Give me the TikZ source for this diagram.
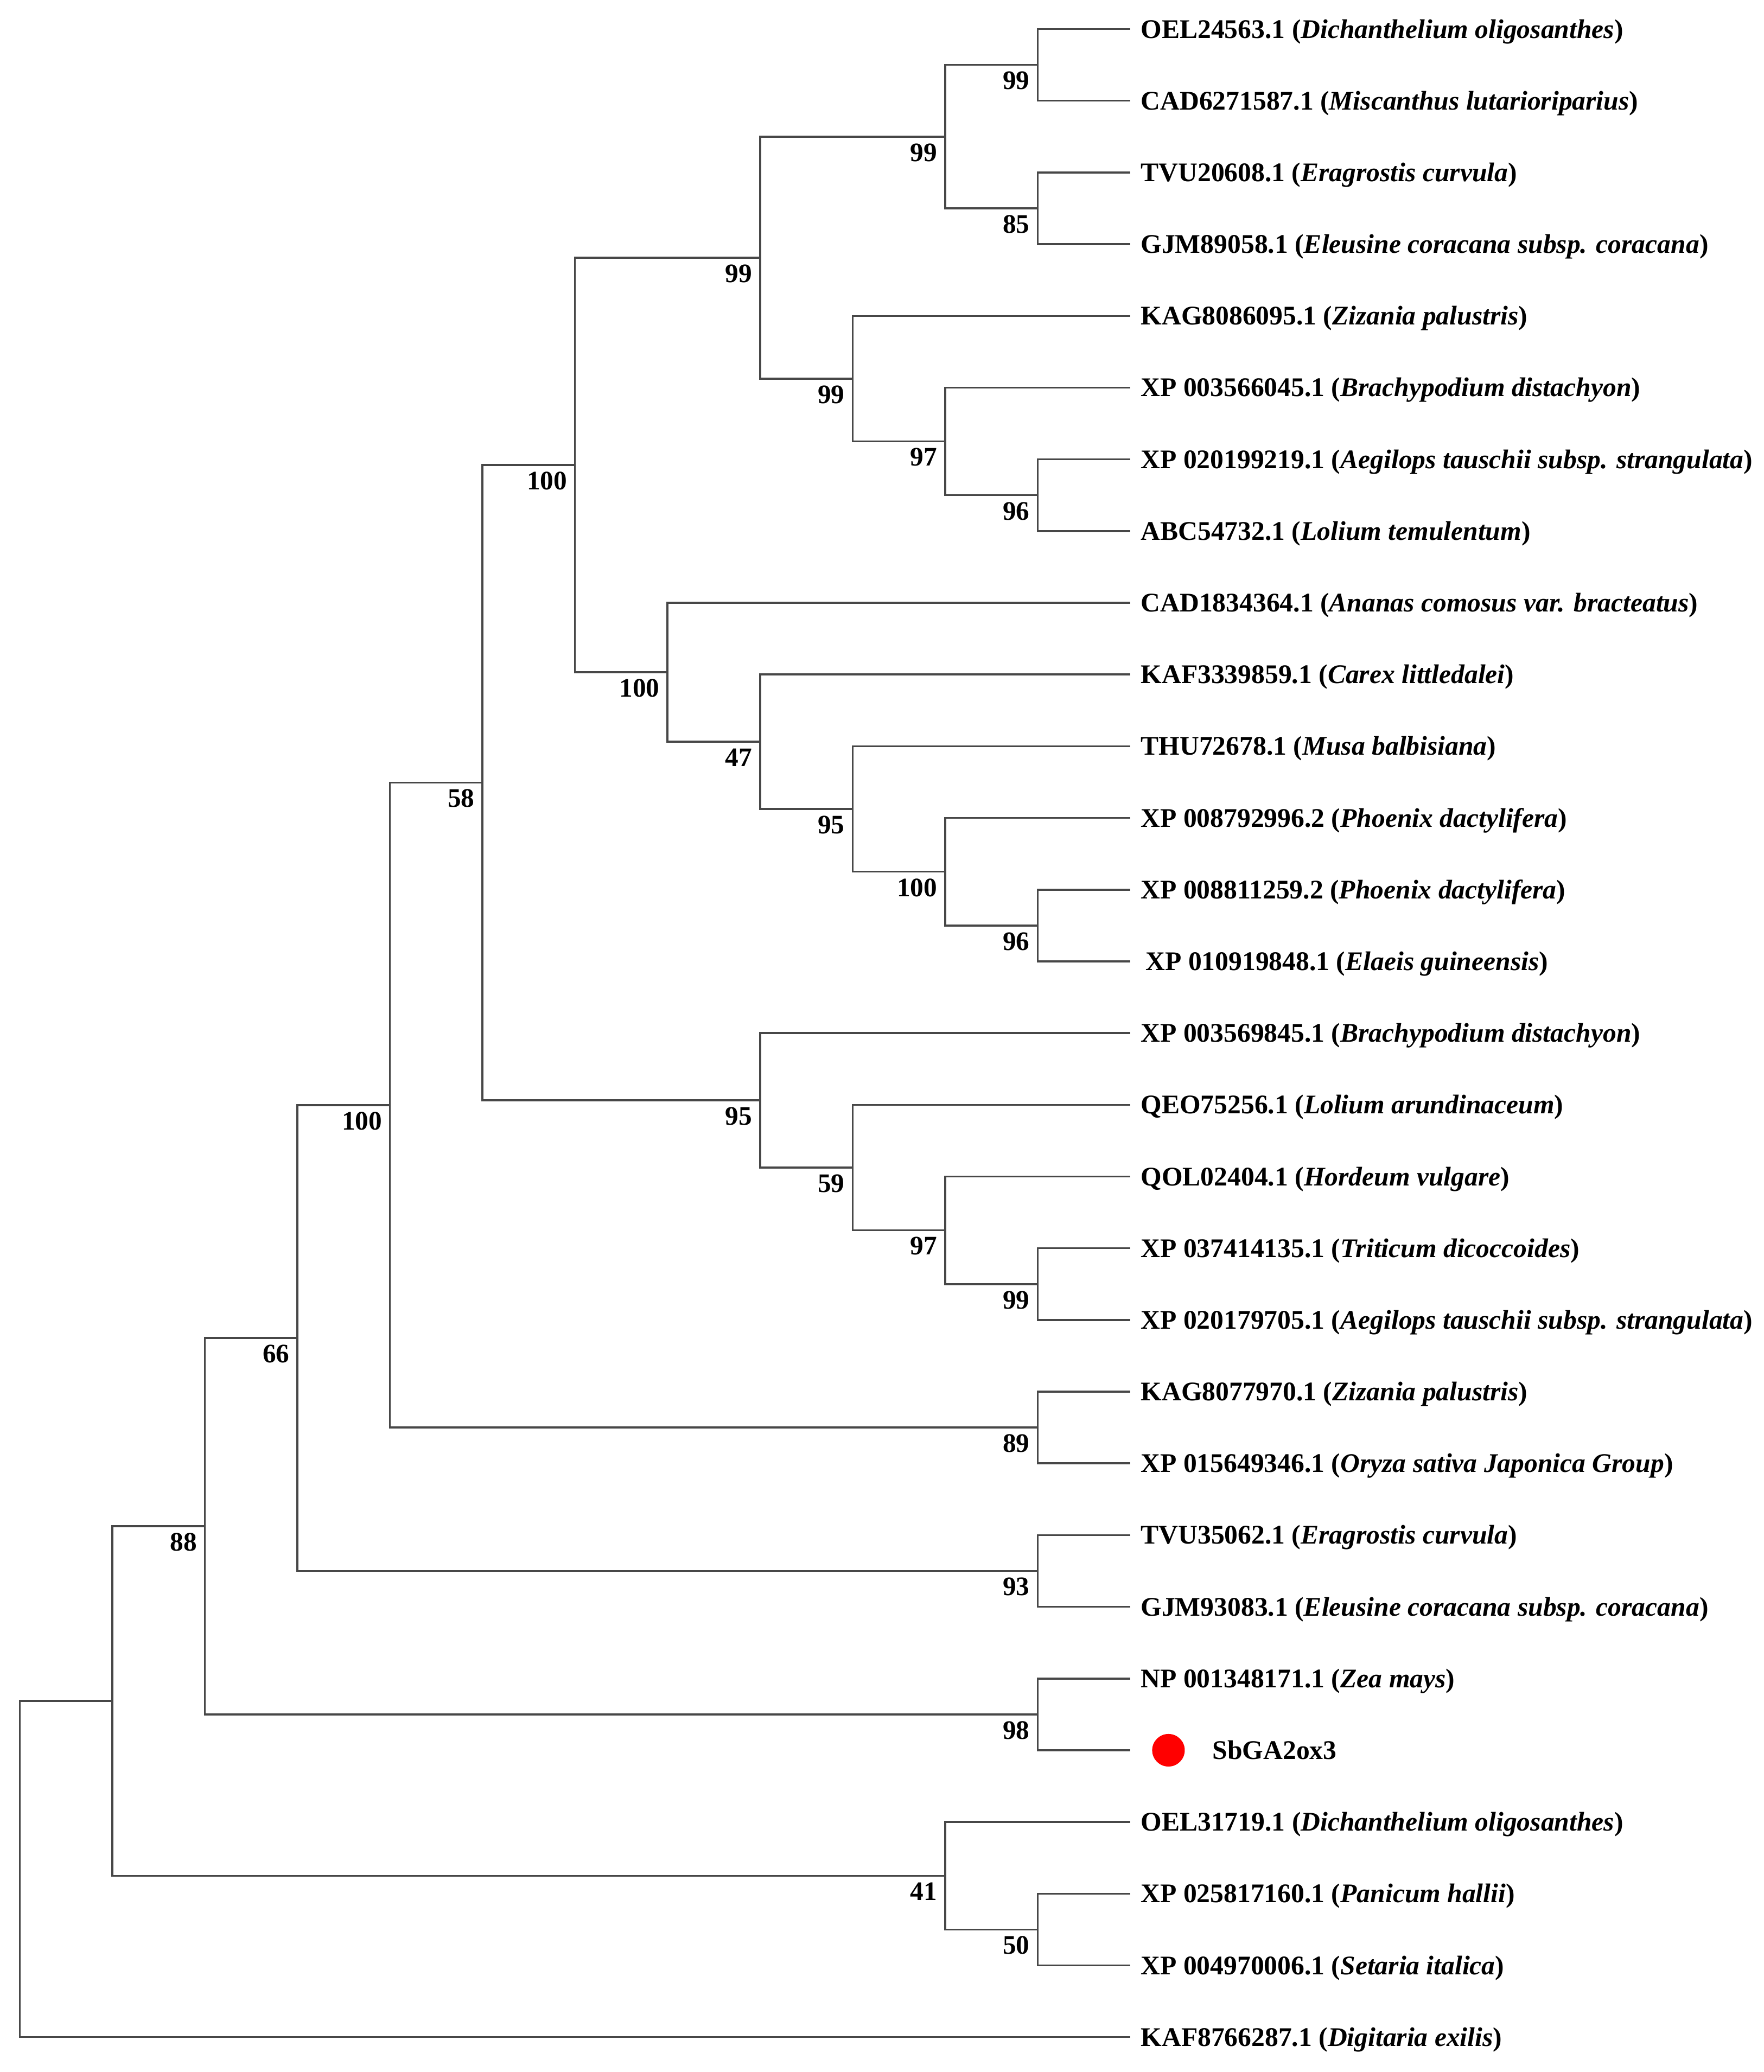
\documentclass[tikz,border=0pt]{standalone}
\usepackage{fontspec}
\setmainfont{Liberation Serif}
\begin{document}
\begin{tikzpicture}[x=1.7034cm, y=-0.0243cm,
    branch/.style={draw=black!72, line width=1pt},
    leaf/.style={anchor=base west, inner sep=0pt, xshift=0.19cm, yshift=-0.165cm,
      font=\fontsize{14.1}{17}\selectfont\bfseries},
    boot/.style={anchor=north east, inner sep=0pt, xshift=-0.14cm, yshift=-0.12cm,
      font=\fontsize{14}{17}\selectfont\bfseries}]
  \useasboundingbox (-0.214,0) rectangle (18.845,1569.4);

  \foreach \i in {0,...,28}{
      \coordinate (t\i) at (12, {22+54.32*\i});
  }

  \foreach \n/\lx/\ly in {A/0/1415.66, B/1/1288.36, C/2/1155.98, E/3/1013.45,
      F/4/837.01, G/5/592.79, H/6/352.17, I/8/195.15, J/10/103.48, K/11/49.16,
      L/11/157.8, M/9/286.81, N/10/334.34, O/11/375.08, P/7/509.18, Q/8/561.81,
      R/9/612.73, S/10/660.26, T/11/701, U/8/833.4, V/9/884.33, W/10/931.86,
      X/11/972.6, Y/11/1081.24, Z/11/1189.88, AA/11/1298.52, AB/10/1420.74,
      AC/11/1461.48}{
      \coordinate (node\n) at (\lx,\ly);
  }

  \foreach \p/\c in {nodeA/nodeB, nodeA/t28, nodeB/nodeC, nodeB/nodeAB,
      nodeC/nodeE, nodeC/nodeAA, nodeE/nodeF, nodeE/nodeZ, nodeF/nodeG, nodeF/nodeY,
      nodeG/nodeH, nodeG/nodeU, nodeH/nodeI, nodeH/nodeP, nodeI/nodeJ, nodeI/nodeM,
      nodeJ/nodeK, nodeJ/nodeL, nodeK/t0, nodeK/t1, nodeL/t2, nodeL/t3,
      nodeM/t4, nodeM/nodeN, nodeN/t5, nodeN/nodeO, nodeO/t6, nodeO/t7,
      nodeP/t8, nodeP/nodeQ, nodeQ/t9, nodeQ/nodeR, nodeR/t10, nodeR/nodeS,
      nodeS/t11, nodeS/nodeT, nodeT/t12, nodeT/t13,
      nodeU/t14, nodeU/nodeV, nodeV/t15, nodeV/nodeW, nodeW/t16, nodeW/nodeX,
      nodeX/t17, nodeX/t18, nodeY/t19, nodeY/t20, nodeZ/t21, nodeZ/t22,
      nodeAA/t23, nodeAA/t24, nodeAB/t25, nodeAB/nodeAC, nodeAC/t26, nodeAC/t27}{
      \draw[branch] (\p) |- (\c);
  }

  \foreach \n/\v in {C/88, E/66, F/100, G/58, H/100, I/99, J/99, K/99, L/85,
      M/99, N/97, O/96, P/100, Q/47, R/95, S/100, T/96, U/95, V/59, W/97,
      X/99, Y/89, Z/93, AA/98, AB/41, AC/50}{
      \node[boot] (boot\n) at (node\n) {\v};
  }

  \foreach \i/\acc/\sp in {0/OEL24563.1/Dichanthelium oligosanthes,
      1/CAD6271587.1/Miscanthus lutarioriparius,
      2/TVU20608.1/Eragrostis curvula,
      3/GJM89058.1/Eleusine coracana subsp. coracana,
      4/KAG8086095.1/Zizania palustris,
      5/XP 003566045.1/Brachypodium distachyon,
      6/XP 020199219.1/Aegilops tauschii subsp. strangulata,
      7/ABC54732.1/Lolium temulentum,
      8/CAD1834364.1/Ananas comosus var. bracteatus,
      9/KAF3339859.1/Carex littledalei,
      10/THU72678.1/Musa balbisiana,
      11/XP 008792996.2/Phoenix dactylifera,
      12/XP 008811259.2/Phoenix dactylifera,
      13/\hspace{0.09cm}XP 010919848.1/Elaeis guineensis,
      14/XP 003569845.1/Brachypodium distachyon,
      15/QEO75256.1/Lolium arundinaceum,
      16/QOL02404.1/Hordeum vulgare,
      17/XP 037414135.1/Triticum dicoccoides,
      18/XP 020179705.1/Aegilops tauschii subsp. strangulata,
      19/KAG8077970.1/Zizania palustris,
      20/XP 015649346.1/Oryza sativa Japonica Group,
      21/TVU35062.1/Eragrostis curvula,
      22/GJM93083.1/Eleusine coracana subsp. coracana,
      23/NP 001348171.1/Zea mays,
      25/OEL31719.1/Dichanthelium oligosanthes,
      26/XP 025817160.1/Panicum hallii,
      27/XP 004970006.1/Setaria italica,
      28/KAF8766287.1/Digitaria exilis}{
      \node[leaf] (lab\i) at (t\i) {\acc\ (\textit{\sp})};
  }

  \node[circle, fill=red, inner sep=0pt, minimum size=0.6cm] (dot) at ([xshift=0.705cm]t24) {};
  \node[leaf, xshift=1.32cm] (lab24) at (t24) {SbGA2ox3};

\end{tikzpicture}
\end{document}
